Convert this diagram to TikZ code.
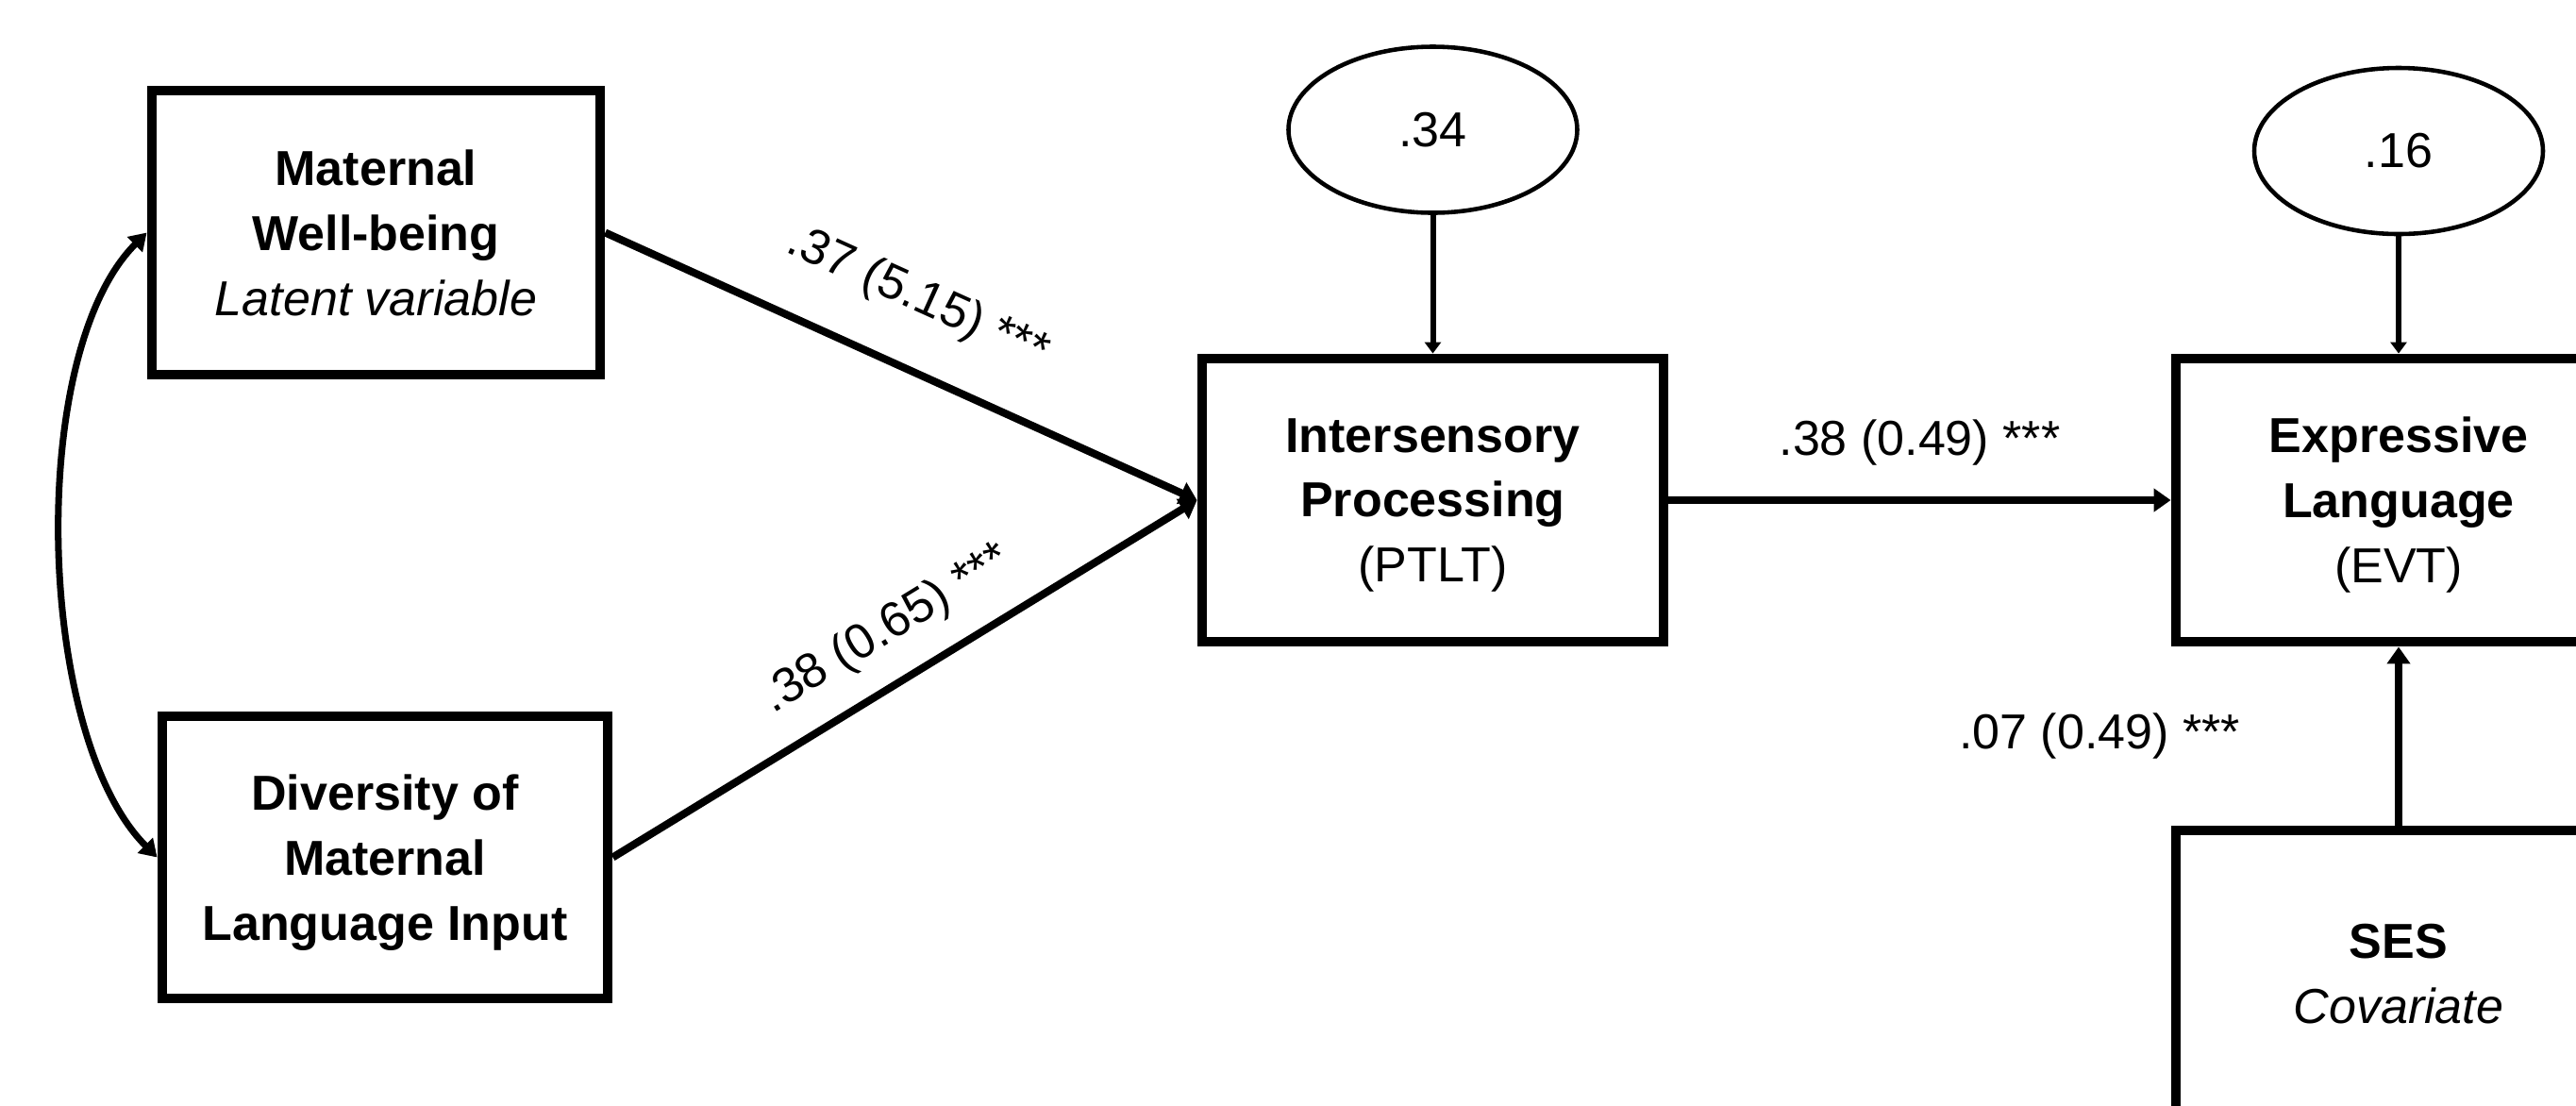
\documentclass[tikz,border=0pt]{standalone}
\usepackage{fontspec}
\setmainfont{Liberation Sans}
\usepackage{tikz}
\usetikzlibrary{arrows.meta,shapes.geometric}

\begin{document}
\begin{tikzpicture}[
  var/.style={draw, line width=3.1pt, align=center, inner sep=0pt, minimum height=3.0cm,
    text depth=0pt, font=\fontsize{14.8}{19.6}\selectfont},
  err/.style={draw, ellipse, line width=1.3pt, minimum width=3.06cm, minimum height=1.76cm,
    font=\fontsize{14.8}{19.6}\selectfont},
  effect/.style={line width=2.3pt, -{Triangle[length=0.18cm,width=0.24cm]}},
  res/.style={line width=1.7pt, -{Triangle[length=0.12cm,width=0.17cm]}},
  cov/.style={line width=2pt, {Triangle[length=0.18cm,width=0.22cm]}-{Triangle[length=0.18cm,width=0.22cm]}},
  lbl/.style={inner sep=0pt, font=\fontsize{14.8}{19.6}\selectfont}
]
\useasboundingbox (0,0) rectangle (27.30,-11.71);
\clip (0,0) rectangle (27.30,-11.71);
\node[var, minimum width=4.75cm, minimum height=3.01cm] (mwb) at (3.985,-2.465)
  {\textbf{Maternal}\\\textbf{Well-being}\\\textit{Latent variable}};
\node[var, minimum width=4.72cm, minimum height=2.99cm] (dmli) at (4.08,-9.085)
  {\textbf{Diversity of}\\\textbf{Maternal}\\\textbf{Language Input}};
\node[var, minimum width=4.89cm] (isp) at (15.185,-5.30)
  {\textbf{Intersensory}\\\textbf{Processing}\\(PTLT)};
\node[var, minimum width=4.72cm] (el) at (25.42,-5.30)
  {\textbf{Expressive}\\\textbf{Language}\\(EVT)};
\node[var, minimum width=4.72cm, minimum height=3.04cm] (ses) at (25.42,-10.32)
  {\textbf{SES}\\\textit{Covariate}};
\node[err] (e1) at (15.185,-1.375) {.34};
\node[err] (e2) at (25.42,-1.60) {.16};
\draw[cov] (mwb.west) to[out=225, in=135, looseness=0.7] (dmli.west);
\draw[effect] (mwb.east) -- node[lbl, sloped, pos=0.48, above=0.45cm] {.37 (5.15) ***} (isp.west);
\draw[effect] (dmli.east) -- node[lbl, sloped, pos=0.515, above=0.26cm] {.38 (0.65) ***} (isp.west);
\draw[effect] (isp.east) -- node[lbl, above=0.33cm] {.38 (0.49) ***} (el.west);
\draw[effect] (ses.north) -- node[lbl, left=1.64cm] {.07 (0.49) ***} (el.south);
\draw[res] (e1.south) -- (isp.north);
\draw[res] (e2.south) -- (el.north);
\end{tikzpicture}
\end{document}
